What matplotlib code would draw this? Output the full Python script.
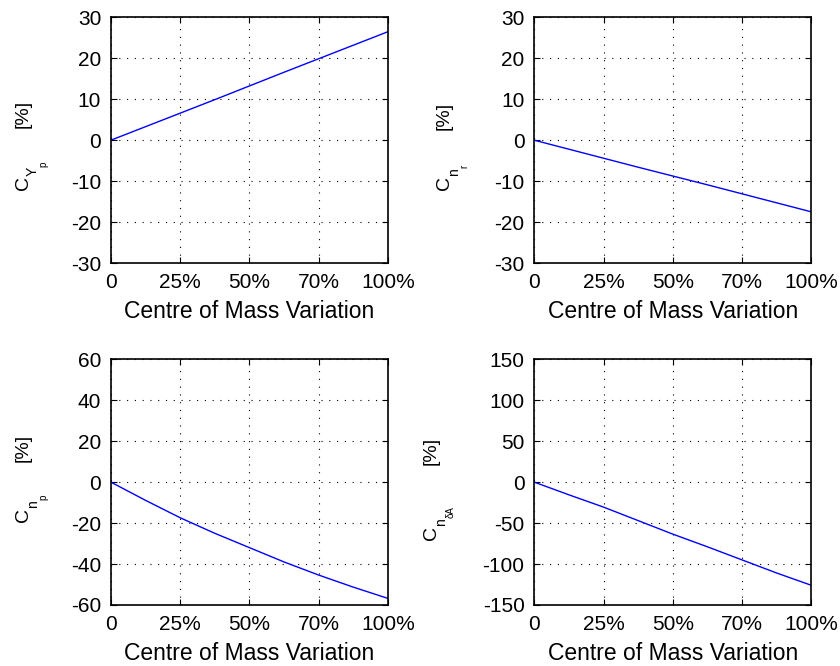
import matplotlib
matplotlib.use("Agg")
import matplotlib.pyplot as plt
from matplotlib.transforms import IdentityTransform

plt.rcParams["font.family"] = ["Liberation Sans", "DejaVu Sans"]
plt.rcParams["axes.unicode_minus"] = False

# data (x as fraction of the centre of mass variation)
x = [0, 0.125, 0.25, 0.375, 0.5, 0.625, 0.75, 0.875, 1.0]
cy_p = [0, 3.3, 6.6, 9.9, 13.25, 16.6, 19.9, 23.2, 26.5]
cn_r = [0, -2.2, -4.4, -6.6, -8.75, -10.9, -13.1, -15.3, -17.5]
cn_p = [0, -8.9, -17.4, -25.0, -32.0, -39.0, -45.4, -51.3, -56.8]
cn_da = [0, -15.5, -30.5, -47.0, -63.5, -79.0, -95.0, -111.0, -126.0]

xtick_pos = [0, 0.25, 0.5, 0.75, 1.0]
xtick_labels = ["0", "25%", "50%", "70%", "100%"]

# (series, subscript, sub-subscript, y ticks)
panels = [
    (cy_p, "Y", "p", [-30, -20, -10, 0, 10, 20, 30]),
    (cn_r, "n", "r", [-30, -20, -10, 0, 10, 20, 30]),
    (cn_p, "n", "p", [-60, -40, -20, 0, 20, 40, 60]),
    (cn_da, "n", "\u03b4A", [-150, -100, -50, 0, 50, 100, 150]),
]

rects = [
    [0.132, 0.605, 0.330, 0.369],
    [0.636, 0.605, 0.330, 0.369],
    [0.132, 0.0916, 0.330, 0.369],
    [0.636, 0.0916, 0.330, 0.369],
]

# ylabel placement in pixels from top-left: C baseline x, C start y, [%] start y
label_pos = [(28, 190, 128), (449, 190, 130), (28, 522, 462), (436, 540, 465)]

H = 666
fig = plt.figure(figsize=(8.4, 6.66), dpi=100)
renderer = fig.canvas.get_renderer()


def rot_text(px, py, s, size):
    t = fig.text(px, py, s, rotation=90, rotation_mode="anchor", ha="left",
                 va="baseline", fontsize=size, transform=IdentityTransform())
    return t.get_window_extent(renderer)


for (y, sub, subsub, yt), rect, (cx, cy, by) in zip(panels, rects, label_pos):
    ax = fig.add_axes(rect)
    ax.plot(x, y, color="blue", lw=1.0)
    ax.set_xlim(0, 1)
    ax.set_ylim(yt[0], yt[-1])
    ax.set_xticks(xtick_pos)
    ax.set_xticklabels(xtick_labels)
    ax.set_yticks(yt)
    ax.grid(True, color="black", linestyle=(0, (1, 6)), linewidth=0.8)
    ax.tick_params(direction="in", top=True, right=True, labelsize=15, length=4, pad=7)
    ax.set_xlabel("Centre of Mass Variation", fontsize=16.5, labelpad=6)
    for s in ax.spines.values():
        s.set_linewidth(1.2)

    # y label built as C with nested subscripts, then [%]
    bb = rot_text(cx, H - cy, "C", 14)
    bb = rot_text(cx + 9, bb.y1, sub, 10)
    rot_text(cx + 18, bb.y1, subsub, 7)
    rot_text(cx, H - by, "[%]", 14)

fig.savefig("out.png", dpi=100)
